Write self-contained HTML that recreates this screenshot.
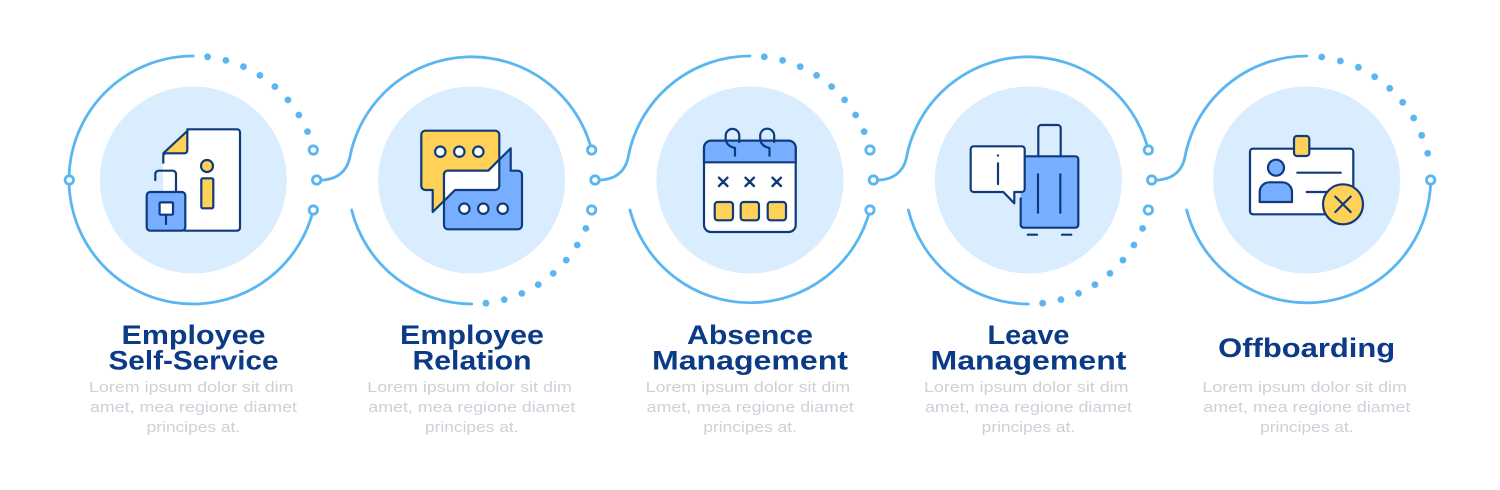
<!DOCTYPE html>
<html><head><meta charset="utf-8"><style>
html,body{margin:0;padding:0;background:#fff;width:1500px;height:490px;overflow:hidden}
svg{display:block}
text{font-family:"Liberation Sans",sans-serif}
.t{font-size:26.5px;font-weight:bold;fill:#0b3a86;text-anchor:middle}
.b{font-size:14.5px;fill:#cdd0d9}
.a{fill:none;stroke:#5ab6f1;stroke-width:2.8;stroke-linecap:round}
.r{fill:#fff;stroke:#5ab6f1;stroke-width:2.8}
.d{fill:#5ab6f1}
.n{stroke:#0f3a7c;stroke-width:2.2;stroke-linejoin:round;stroke-linecap:round}
.y{fill:#ffd257}.l{fill:#78aeff}.w{fill:#fff}.o{fill:none}
</style></head><body>
<svg width="1500" height="490" viewBox="0 0 1500 490" xmlns="http://www.w3.org/2000/svg">
<rect width="1500" height="490" fill="#fff"/>
<defs>
<g id="dots" class="d">
<circle cx="14.3" cy="-123.2" r="3.4"/><circle cx="32.6" cy="-119.6" r="3.4"/><circle cx="50.2" cy="-113.4" r="3.4"/><circle cx="66.6" cy="-104.6" r="3.4"/><circle cx="81.6" cy="-93.4" r="3.4"/><circle cx="94.6" cy="-80.1" r="3.4"/><circle cx="105.6" cy="-65" r="3.4"/><circle cx="114.2" cy="-48.4" r="3.4"/>
</g>
</defs>

<!-- inner discs -->
<g fill="#d9edfe">
<circle cx="193.3" cy="180" r="93.5"/><circle cx="471.65" cy="180" r="93.5"/><circle cx="750" cy="180" r="93.5"/><circle cx="1028.35" cy="180" r="93.5"/><circle cx="1306.7" cy="180" r="93.5"/>
</g>

<!-- ring 1 -->
<g transform="translate(193.3 180)">
<path class="a" d="M0-124A124 124 0 1 0 120 30"/>
<use href="#dots"/>
<circle class="r" cx="-124" cy="0" r="4.2"/><circle class="r" cx="120" cy="-30" r="4.2"/><circle class="r" cx="120" cy="30" r="4.2"/>
</g>
<!-- ring 2 -->
<g transform="translate(471.65 180)">
<path class="a" d="M-151 0C-135.6 0-125-8-122-22A124 124 0 0 1 120-30"/>
<path class="a" d="M-120 30A124 124 0 0 0 0 124"/>
<use href="#dots" transform="scale(1 -1)"/>
<circle class="r" cx="120" cy="-30" r="4.2"/><circle class="r" cx="120" cy="30" r="4.2"/>
<circle class="r" cx="-155" cy="0" r="4.2"/>
</g>
<!-- ring 3 -->
<g transform="translate(750 180)">
<path class="a" d="M-151 0C-135.6 0-125-8-122-22A124 124 0 0 1 0-124"/>
<path class="a" d="M-120 30A124 124 0 0 0 120 30"/>
<use href="#dots"/>
<circle class="r" cx="120" cy="-30" r="4.2"/><circle class="r" cx="120" cy="30" r="4.2"/>
<circle class="r" cx="-155" cy="0" r="4.2"/>
</g>
<!-- ring 4 -->
<g transform="translate(1028.35 180)">
<path class="a" d="M-151 0C-135.6 0-125-8-122-22A124 124 0 0 1 120-30"/>
<path class="a" d="M-120 30A124 124 0 0 0 0 124"/>
<use href="#dots" transform="scale(1 -1)"/>
<circle class="r" cx="120" cy="-30" r="4.2"/><circle class="r" cx="120" cy="30" r="4.2"/>
<circle class="r" cx="-155" cy="0" r="4.2"/>
</g>
<!-- ring 5 -->
<g transform="translate(1306.7 180)">
<path class="a" d="M-151 0C-135.6 0-125-8-122-22A124 124 0 0 1 0-124"/>
<path class="a" d="M-120 30A124 124 0 0 0 124 0"/>
<g class="d"><circle cx="15" cy="-123" r="3.4"/><circle cx="33.7" cy="-119" r="3.4"/><circle cx="51.7" cy="-112.7" r="3.4"/><circle cx="68" cy="-103.3" r="3.4"/><circle cx="83" cy="-91.7" r="3.4"/><circle cx="96" cy="-77.7" r="3.4"/><circle cx="107" cy="-62" r="3.4"/><circle cx="115" cy="-44.7" r="3.4"/><circle cx="121" cy="-26.7" r="3.4"/></g>
<circle class="r" cx="124" cy="0" r="4.2"/>
<circle class="r" cx="-155" cy="0" r="4.2"/>
</g>

<!-- icon 1 -->
<g class="n">
<path class="w" stroke="none" d="M187.3 129.3H237a3 3 0 0 1 3 3V228a3 3 0 0 1-3 3H163V153.3Z"/>
<path class="o" d="M163.3 162.7V155L187.3 131V132.3M187.3 129.3H237a3 3 0 0 1 3 3V227.7a3 3 0 0 1-3 3H185"/>
<path class="y" d="M187.3 131V150.3a3 3 0 0 1-3 3H163.3Z"/>
<path class="o" d="M155.3 180V174a3.3 3.3 0 0 1 3.3-3.3H172.7a3.3 3.3 0 0 1 3.3 3.3V192"/>
<rect class="l" x="146.7" y="192" width="38.6" height="38.7" rx="3.5"/>
<rect class="w" x="159.6" y="202.4" width="13.4" height="12.3" rx="1"/>
<path class="o" d="M166 215V224"/>
<circle class="y" cx="207" cy="166" r="6"/>
<rect class="y" x="201.3" y="178.3" width="12" height="30" rx="1.5"/>
</g>

<!-- icon 2 -->
<g class="n">
<path class="y" d="M425 130.7H495.3a4 4 0 0 1 4 4V186a4 4 0 0 1-4 4H455L432.7 212V190H425.3a4 4 0 0 1-4-4V134.7a4 4 0 0 1 3.7-4Z"/>
<path class="l" d="M449 170.7H488.3L510.7 148.3V170.7H518a4 4 0 0 1 4 4V225.3a4 4 0 0 1-4 4H448a4 4 0 0 1-4-4V175a4 4 0 0 1 5-4.3Z"/>
<path class="w" d="M444 175a4 4 0 0 1 5-4.3H488.3L499.3 159.5V186a4 4 0 0 1-4 4H455L444 201Z"/>
<g class="w"><circle cx="440.3" cy="151.7" r="5.2"/><circle cx="459.3" cy="151.7" r="5.2"/><circle cx="478.3" cy="151.7" r="5.2"/><circle cx="464.3" cy="208.7" r="5.2"/><circle cx="483.3" cy="208.7" r="5.2"/><circle cx="502.7" cy="208.7" r="5.2"/></g>
</g>

<!-- icon 3 -->
<g class="n">
<rect class="w" x="704" y="140.7" width="91.7" height="91.3" rx="7"/>
<path class="l" d="M704 162.3V147.7a7 7 0 0 1 7-7H788.7a7 7 0 0 1 7 7V162.3Z"/>
<path class="o" d="M735 155.7V148Q725.7 146 725.7 138V135.7A6.8 6.8 0 0 1 739.3 135.7V142"/>
<path class="o" d="M769.5 155.7V148Q760.2 146 760.2 138V135.7A7 7 0 0 1 774.2 135.7V142"/>
<path class="o" stroke-width="2.4" d="M719 177.7L727.4 186M727.4 177.7L719 186M745.5 177.7L753.9 186M753.9 177.7L745.5 186M772.5 177.7L780.9 186M780.9 177.7L772.5 186"/>
<rect class="y" x="714.7" y="202" width="18.3" height="18.3" rx="3"/>
<rect class="y" x="740.7" y="202" width="18.3" height="18.3" rx="3"/>
<rect class="y" x="767.7" y="202" width="18.3" height="18.3" rx="3"/>
</g>

<!-- icon 4 -->
<g class="n">
<path class="o" d="M1038.3 156.3V128a3 3 0 0 1 3-3H1057.7a3 3 0 0 1 3 3V156.3"/>
<rect class="l" stroke="none" x="1020.7" y="156.3" width="57.6" height="71.4" rx="2.5"/>
<path class="o" d="M1020.7 198.3V224.7a3 3 0 0 0 3 3H1075.3a3 3 0 0 0 3-3V159.3a3 3 0 0 0-3-3H1022"/>
<path class="o" d="M1038 174.3V212.7M1060.3 174.3V212.7M1027.8 234.7H1037M1062 234.7H1071.3"/>
<path class="w" d="M973.7 146.3H1021.7a3 3 0 0 1 3 3V189a3 3 0 0 1-3 3H1014.3V203.3L1003.3 192H973.7a3 3 0 0 1-3-3V149.3a3 3 0 0 1 3-3Z"/>
<path class="o" d="M998 155.3V155.6M998 163.3V184"/>
</g>

<!-- icon 5 -->
<g class="n">
<rect class="w" x="1250" y="148.7" width="103.3" height="65.6" rx="3"/>
<rect class="y" x="1294" y="136" width="15.3" height="20" rx="3"/>
<circle class="l" cx="1276" cy="167.7" r="8"/>
<path class="l" d="M1259.7 202V192a9.7 9.7 0 0 1 9.7-9.7H1282.3a9.7 9.7 0 0 1 9.7 9.7V202Z"/>
<path class="o" d="M1297.3 172.7H1340.7M1306.7 192H1327"/>
<circle class="y" cx="1343" cy="204.3" r="20"/>
<path class="o" d="M1335.3 196.6L1350.7 212M1350.7 196.6L1335.3 212"/>
</g>

<!-- titles -->
<text class="t" x="193.5" y="344" textLength="144" lengthAdjust="spacingAndGlyphs">Employee</text>
<text class="t" x="193.5" y="369.5" textLength="170" lengthAdjust="spacingAndGlyphs">Self-Service</text>
<text class="t" x="472" y="344" textLength="144" lengthAdjust="spacingAndGlyphs">Employee</text>
<text class="t" x="472" y="369.5" textLength="119" lengthAdjust="spacingAndGlyphs">Relation</text>
<text class="t" x="750" y="344" textLength="126" lengthAdjust="spacingAndGlyphs">Absence</text>
<text class="t" x="750" y="369.5" textLength="196" lengthAdjust="spacingAndGlyphs">Management</text>
<text class="t" x="1028.5" y="344" textLength="82" lengthAdjust="spacingAndGlyphs">Leave</text>
<text class="t" x="1028.5" y="369.5" textLength="196" lengthAdjust="spacingAndGlyphs">Management</text>
<text class="t" x="1306.7" y="357" textLength="177" lengthAdjust="spacingAndGlyphs">Offboarding</text>

<!-- body -->
<g class="b">
<text x="89" y="392" textLength="204.5" lengthAdjust="spacingAndGlyphs">Lorem ipsum dolor sit dim</text>
<text x="90" y="412" textLength="207" lengthAdjust="spacingAndGlyphs">amet, mea regione diamet</text>
<text x="146.7" y="432" textLength="93.5" lengthAdjust="spacingAndGlyphs">principes at.</text>
<text x="367.3" y="392" textLength="204.5" lengthAdjust="spacingAndGlyphs">Lorem ipsum dolor sit dim</text>
<text x="368.3" y="412" textLength="207" lengthAdjust="spacingAndGlyphs">amet, mea regione diamet</text>
<text x="425" y="432" textLength="93.5" lengthAdjust="spacingAndGlyphs">principes at.</text>
<text x="645.7" y="392" textLength="204.5" lengthAdjust="spacingAndGlyphs">Lorem ipsum dolor sit dim</text>
<text x="646.7" y="412" textLength="207" lengthAdjust="spacingAndGlyphs">amet, mea regione diamet</text>
<text x="703.4" y="432" textLength="93.5" lengthAdjust="spacingAndGlyphs">principes at.</text>
<text x="924" y="392" textLength="204.5" lengthAdjust="spacingAndGlyphs">Lorem ipsum dolor sit dim</text>
<text x="925" y="412" textLength="207" lengthAdjust="spacingAndGlyphs">amet, mea regione diamet</text>
<text x="981.7" y="432" textLength="93.5" lengthAdjust="spacingAndGlyphs">principes at.</text>
<text x="1202.4" y="392" textLength="204.5" lengthAdjust="spacingAndGlyphs">Lorem ipsum dolor sit dim</text>
<text x="1203.4" y="412" textLength="207" lengthAdjust="spacingAndGlyphs">amet, mea regione diamet</text>
<text x="1260.1" y="432" textLength="93.5" lengthAdjust="spacingAndGlyphs">principes at.</text>
</g>
</svg>
</body></html>
